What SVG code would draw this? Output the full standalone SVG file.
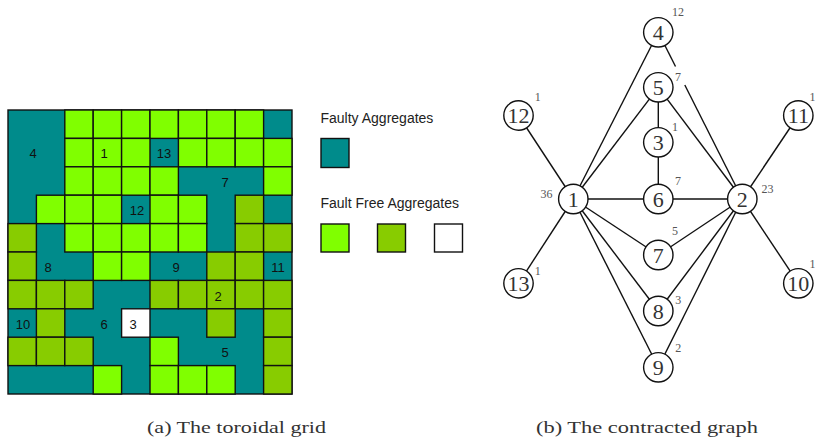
<svg xmlns="http://www.w3.org/2000/svg" width="817" height="447" viewBox="0 0 817 447">
  <style>
    .L { fill: #80ff00; stroke: #111; stroke-width: 1.4; }
    .D { fill: #88cc00; stroke: #111; stroke-width: 1.4; }
    .W { fill: #ffffff; stroke: #111; stroke-width: 1.4; }
    .T { fill: #008b8b; stroke: #111; stroke-width: 1.4; }
    .glab { font-family: "Liberation Sans", Arial, sans-serif; font-size: 13px; fill: #111; text-anchor: middle; }
    .leg { font-family: "Liberation Sans", Arial, sans-serif; font-size: 14px; fill: #222; }
    .node circle { fill: #fff; stroke: #111; stroke-width: 1.4; }
    .node text { font-family: "Liberation Serif", "DejaVu Serif", serif; font-size: 22px; fill: #333; text-anchor: middle; }
    .w { font-family: "Liberation Serif", "DejaVu Serif", serif; font-size: 12px; fill: #555; text-anchor: middle; }
    .edges line { stroke: #111; stroke-width: 1.4; }
    .cap { font-family: "Liberation Serif", "DejaVu Serif", serif; font-size: 17px; fill: #333; }
  </style>

  <!-- (a) toroidal grid: teal background, fault-free cells drawn on top -->
  <g id="grid">
    <rect x="8" y="110" width="284" height="284" class="T"/>
    <!-- row 0 -->
    <rect x="64.8" y="110" width="28.4" height="28.4" class="L"/>
    <rect x="93.2" y="110" width="28.4" height="28.4" class="L"/>
    <rect x="121.6" y="110" width="28.4" height="28.4" class="L"/>
    <rect x="150" y="110" width="28.4" height="28.4" class="L"/>
    <rect x="178.4" y="110" width="28.4" height="28.4" class="L"/>
    <rect x="206.8" y="110" width="28.4" height="28.4" class="L"/>
    <rect x="235.2" y="110" width="28.4" height="28.4" class="L"/>
    <!-- row 1 -->
    <rect x="64.8" y="138.4" width="28.4" height="28.4" class="L"/>
    <rect x="93.2" y="138.4" width="28.4" height="28.4" class="L"/>
    <rect x="121.6" y="138.4" width="28.4" height="28.4" class="L"/>
    <rect x="178.4" y="138.4" width="28.4" height="28.4" class="L"/>
    <rect x="206.8" y="138.4" width="28.4" height="28.4" class="L"/>
    <rect x="235.2" y="138.4" width="28.4" height="28.4" class="L"/>
    <rect x="263.6" y="138.4" width="28.4" height="28.4" class="L"/>
    <!-- row 2 -->
    <rect x="64.8" y="166.8" width="28.4" height="28.4" class="L"/>
    <rect x="93.2" y="166.8" width="28.4" height="28.4" class="L"/>
    <rect x="121.6" y="166.8" width="28.4" height="28.4" class="L"/>
    <rect x="150" y="166.8" width="28.4" height="28.4" class="L"/>
    <rect x="263.6" y="166.8" width="28.4" height="28.4" class="L"/>
    <!-- row 3 -->
    <rect x="36.4" y="195.2" width="28.4" height="28.4" class="L"/>
    <rect x="64.8" y="195.2" width="28.4" height="28.4" class="L"/>
    <rect x="93.2" y="195.2" width="28.4" height="28.4" class="L"/>
    <rect x="150" y="195.2" width="28.4" height="28.4" class="L"/>
    <rect x="178.4" y="195.2" width="28.4" height="28.4" class="L"/>
    <rect x="235.2" y="195.2" width="28.4" height="28.4" class="D"/>
    <!-- row 4 -->
    <rect x="8" y="223.6" width="28.4" height="28.4" class="D"/>
    <rect x="64.8" y="223.6" width="28.4" height="28.4" class="L"/>
    <rect x="93.2" y="223.6" width="28.4" height="28.4" class="L"/>
    <rect x="121.6" y="223.6" width="28.4" height="28.4" class="L"/>
    <rect x="150" y="223.6" width="28.4" height="28.4" class="L"/>
    <rect x="178.4" y="223.6" width="28.4" height="28.4" class="L"/>
    <rect x="235.2" y="223.6" width="28.4" height="28.4" class="D"/>
    <rect x="263.6" y="223.6" width="28.4" height="28.4" class="D"/>
    <!-- row 5 -->
    <rect x="8" y="252" width="28.4" height="28.4" class="D"/>
    <rect x="93.2" y="252" width="28.4" height="28.4" class="L"/>
    <rect x="121.6" y="252" width="28.4" height="28.4" class="L"/>
    <rect x="206.8" y="252" width="28.4" height="28.4" class="D"/>
    <rect x="235.2" y="252" width="28.4" height="28.4" class="D"/>
    <!-- row 6 -->
    <rect x="8" y="280.4" width="28.4" height="28.4" class="D"/>
    <rect x="36.4" y="280.4" width="28.4" height="28.4" class="D"/>
    <rect x="64.8" y="280.4" width="28.4" height="28.4" class="D"/>
    <rect x="150" y="280.4" width="28.4" height="28.4" class="D"/>
    <rect x="178.4" y="280.4" width="28.4" height="28.4" class="D"/>
    <rect x="206.8" y="280.4" width="28.4" height="28.4" class="D"/>
    <rect x="235.2" y="280.4" width="28.4" height="28.4" class="D"/>
    <rect x="263.6" y="280.4" width="28.4" height="28.4" class="D"/>
    <!-- row 7 -->
    <rect x="36.4" y="308.8" width="28.4" height="28.4" class="D"/>
    <rect x="121.6" y="308.8" width="28.4" height="28.4" class="W"/>
    <rect x="206.8" y="308.8" width="28.4" height="28.4" class="D"/>
    <rect x="263.6" y="308.8" width="28.4" height="28.4" class="D"/>
    <!-- row 8 -->
    <rect x="8" y="337.2" width="28.4" height="28.4" class="D"/>
    <rect x="36.4" y="337.2" width="28.4" height="28.4" class="D"/>
    <rect x="64.8" y="337.2" width="28.4" height="28.4" class="D"/>
    <rect x="150" y="337.2" width="28.4" height="28.4" class="L"/>
    <rect x="263.6" y="337.2" width="28.4" height="28.4" class="D"/>
    <!-- row 9 -->
    <rect x="93.2" y="365.6" width="28.4" height="28.4" class="L"/>
    <rect x="150" y="365.6" width="28.4" height="28.4" class="L"/>
    <rect x="178.4" y="365.6" width="28.4" height="28.4" class="L"/>
    <rect x="206.8" y="365.6" width="28.4" height="28.4" class="L"/>
    <rect x="263.6" y="365.6" width="28.4" height="28.4" class="D"/>

    <!-- region labels -->
    <text class="glab" x="33" y="158">4</text>
    <text class="glab" x="104" y="158">1</text>
    <text class="glab" x="164" y="158">13</text>
    <text class="glab" x="225" y="187">7</text>
    <text class="glab" x="137" y="215">12</text>
    <text class="glab" x="48" y="272">8</text>
    <text class="glab" x="176" y="272">9</text>
    <text class="glab" x="278" y="272">11</text>
    <text class="glab" x="218" y="301">2</text>
    <text class="glab" x="23" y="329">10</text>
    <text class="glab" x="104" y="329">6</text>
    <text class="glab" x="133" y="329">3</text>
    <text class="glab" x="225" y="357">5</text>
  </g>

  <!-- legend -->
  <g id="legend">
    <text class="leg" x="320.5" y="123">Faulty Aggregates</text>
    <rect x="321" y="138.5" width="28" height="29" class="T"/>
    <text class="leg" x="320.5" y="208">Fault Free Aggregates</text>
    <rect x="321" y="224" width="28" height="28" class="L"/>
    <rect x="377.5" y="224" width="28" height="28" class="D"/>
    <rect x="434.5" y="224" width="28" height="28" class="W"/>
  </g>

  <!-- (b) contracted graph: edges -->
  <g id="edges" class="edges">
    <line x1="573.3" y1="199" x2="518.5" y2="115.5"/>
    <line x1="573.3" y1="199" x2="518.5" y2="283.3"/>
    <line x1="573.3" y1="199" x2="658.3" y2="32.3"/>
    <line x1="573.3" y1="199" x2="658.3" y2="87.3"/>
    <line x1="573.3" y1="199" x2="742.3" y2="199"/>
    <line x1="573.3" y1="199" x2="658.3" y2="255"/>
    <line x1="573.3" y1="199" x2="658.3" y2="311"/>
    <line x1="573.3" y1="199" x2="658.3" y2="367.3"/>
    <line x1="742.3" y1="199" x2="798.3" y2="115.5"/>
    <line x1="742.3" y1="199" x2="798.3" y2="283.3"/>
    <line x1="658.3" y1="32.3" x2="675.5" y2="66.5"/>
    <line x1="684.8" y1="85" x2="742.3" y2="199"/>
    <line x1="742.3" y1="199" x2="658.3" y2="87.3"/>
    <line x1="742.3" y1="199" x2="658.3" y2="255"/>
    <line x1="742.3" y1="199" x2="658.3" y2="311"/>
    <line x1="742.3" y1="199" x2="658.3" y2="367.3"/>
    <line x1="658.3" y1="87.3" x2="658.3" y2="199"/>
  </g>

  <!-- nodes -->
  <g id="n1" class="node"><circle cx="573.3" cy="199" r="14.7"/><text x="573.3" y="206.5">1</text></g>
  <g id="n2" class="node"><circle cx="742.3" cy="199" r="14.7"/><text x="742.3" y="206.5">2</text></g>
  <g id="n3" class="node"><circle cx="658.3" cy="142.3" r="14.7"/><text x="658.3" y="149.8">3</text></g>
  <g id="n4" class="node"><circle cx="658.3" cy="32.3" r="14.7"/><text x="658.3" y="39.8">4</text></g>
  <g id="n5" class="node"><circle cx="658.3" cy="87.3" r="14.7"/><text x="658.3" y="94.8">5</text></g>
  <g id="n6" class="node"><circle cx="658.3" cy="199" r="14.7"/><text x="658.3" y="206.5">6</text></g>
  <g id="n7" class="node"><circle cx="658.3" cy="255" r="14.7"/><text x="658.3" y="262.5">7</text></g>
  <g id="n8" class="node"><circle cx="658.3" cy="311" r="14.7"/><text x="658.3" y="318.5">8</text></g>
  <g id="n9" class="node"><circle cx="658.3" cy="367.3" r="14.7"/><text x="658.3" y="374.8">9</text></g>
  <g id="n10" class="node"><circle cx="798.3" cy="283.3" r="14.7"/><text x="798.3" y="290.8">10</text></g>
  <g id="n11" class="node"><circle cx="798.3" cy="115.5" r="14.7"/><text x="798.3" y="123">11</text></g>
  <g id="n12" class="node"><circle cx="518.5" cy="115.5" r="14.7"/><text x="518.5" y="123">12</text></g>
  <g id="n13" class="node"><circle cx="518.5" cy="283.3" r="14.7"/><text x="518.5" y="290.8">13</text></g>

  <!-- node weights -->
  <g id="weights">
    <text class="w" x="678" y="16">12</text>
    <text class="w" x="678" y="81">7</text>
    <text class="w" x="675" y="131">1</text>
    <text class="w" x="678" y="184.5">7</text>
    <text class="w" x="546.5" y="197.5">36</text>
    <text class="w" x="767.5" y="192.5">23</text>
    <text class="w" x="537.7" y="101">1</text>
    <text class="w" x="812.5" y="100.5">1</text>
    <text class="w" x="675" y="234.5">5</text>
    <text class="w" x="537.7" y="275">1</text>
    <text class="w" x="812.5" y="267.5">1</text>
    <text class="w" x="678.3" y="303.5">3</text>
    <text class="w" x="678.3" y="352">2</text>
  </g>

  <!-- captions -->
  <text class="cap" x="147" y="433" textLength="179" lengthAdjust="spacingAndGlyphs">(a)  The toroidal grid</text>
  <text class="cap" x="536" y="433" textLength="222" lengthAdjust="spacingAndGlyphs">(b)  The contracted graph</text>
</svg>
